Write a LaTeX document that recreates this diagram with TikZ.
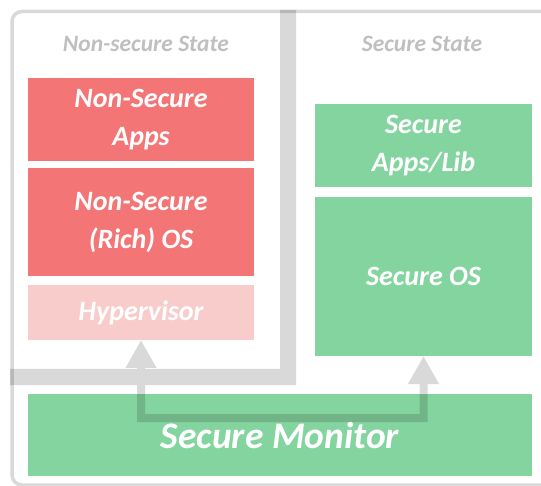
\documentclass[tikz,border=0pt]{standalone}
\usepackage{fontspec}
\setmainfont{Carlito}
\usetikzlibrary{positioning, arrows.meta}
\definecolor{nsred}{HTML}{F47575}
\definecolor{hvpink}{HTML}{F9CCCC}
\definecolor{sgreen}{HTML}{84D4A0}
\definecolor{framegray}{HTML}{D9D9D9}
\definecolor{labelgray}{HTML}{BFBFBF}

\begin{document}
\begin{tikzpicture}[x=1pt, y=-1pt,
        layer/.style={rectangle, inner sep=0pt, outer sep=0pt, text=white, align=center,
            font=\fontsize{28}{38}\selectfont\bfseries\itshape},
        statelabel/.style={text=labelgray, font=\fontsize{23.5}{28}\selectfont\bfseries\itshape},
        switch/.style={line width=8pt, {Triangle[width=29pt,length=28pt]}-{Triangle[width=29pt,length=28pt]}}]
    \useasboundingbox (0,0) rectangle (541,486);

    % Outer frame (runs off the right and bottom edges)
    \draw[framegray, line width=3.5pt, rounded corners=10pt] (12,11.5) rectangle (620,485);

    % World labels
    \node[statelabel] (nslabel) at (146,44) {Non-secure State};
    \node[statelabel] (slabel) at (422,44) {Secure State};

    % Normal world stack
    \node[layer, fill=nsred, minimum width=226pt, minimum height=83pt] (nsapps) at (141,119.5) {Non-Secure\\Apps};
    \node[layer, fill=nsred, minimum width=226pt, minimum height=108pt, below=7pt of nsapps] (nsos) {Non-Secure\\(Rich) OS};
    \node[layer, fill=hvpink, minimum width=226pt, minimum height=55pt, below=9pt of nsos] (hyp) {Hypervisor};

    % Secure world stack
    \node[layer, fill=sgreen, minimum width=217pt, minimum height=83pt] (sapps) at (423.5,145.5) {Secure\\Apps/Lib};
    \node[layer, fill=sgreen, minimum width=217pt, minimum height=159pt, below=10pt of sapps] (sos) {Secure OS};

    % Monitor across both worlds
    \node[layer, fill=sgreen, minimum width=504pt, minimum height=82pt,
        font=\fontsize{37.5}{42}\selectfont\bfseries\itshape] (mon) at (280,435) {Secure Monitor};

    % Divider and world switch, see-through over the monitor
    \coordinate (via) at (282,418);
    \begin{scope}[transparency group, opacity=0.15]
        \fill[black] (10,369) -- (280,369) -- (280,10) -- (296,10) -- (296,385) -- (10,385) -- cycle;
        \draw[black, switch] (hyp.south) |- (via) -| (sos.south);
    \end{scope}
\end{tikzpicture}
\end{document}
